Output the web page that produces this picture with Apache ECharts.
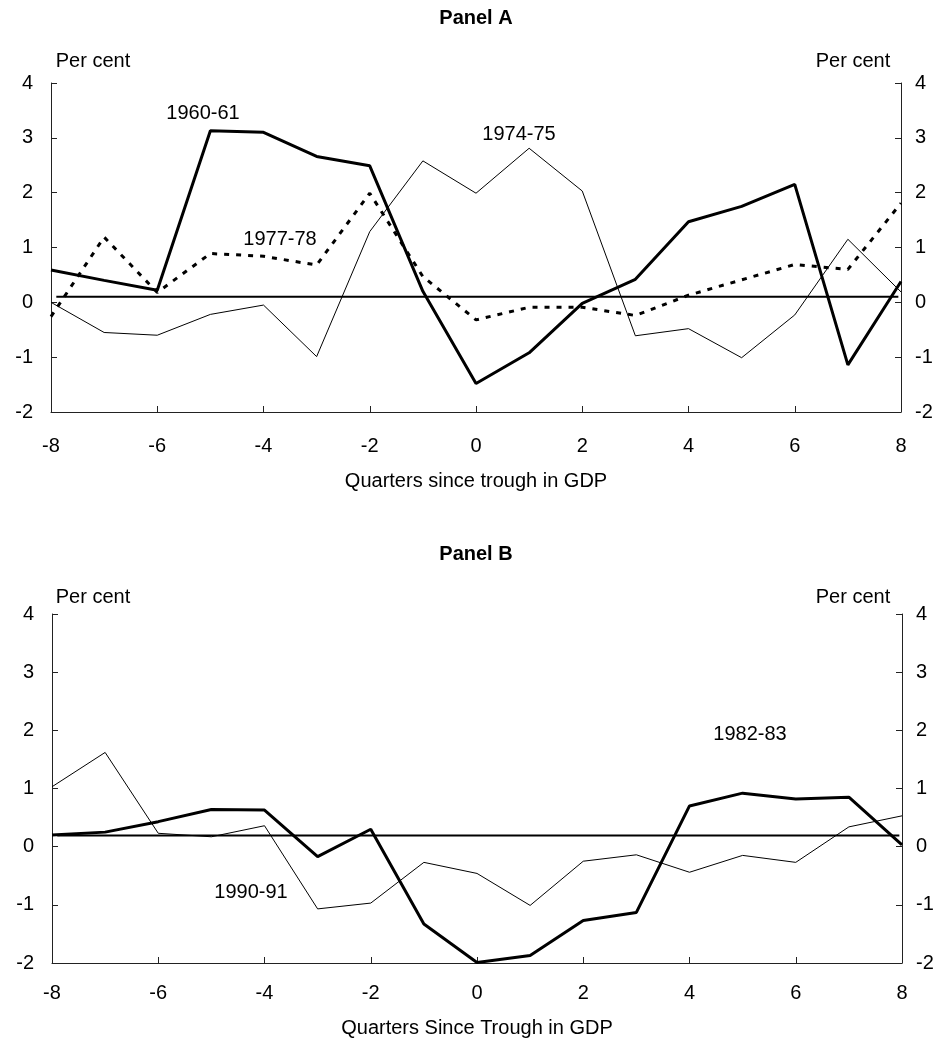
<!DOCTYPE html>
<html>
<head>
<meta charset="utf-8">
<script src="https://cdn.jsdelivr.net/npm/echarts@6/dist/echarts.min.js"></script>
<style>html,body{margin:0;padding:0;background:#fff}#c{width:940px;height:1055px}</style>
</head>
<body>
<div id="c"></div>
<script>
// Quarters since trough in GDP
var quarters = [-8,-7,-6,-5,-4,-3,-2,-1,0,1,2,3,4,5,6,7,8];
var yTicks = [-2,-1,0,1,2,3,4];
var xTicks = [-8,-6,-4,-2,0,2,4,6,8];

// Panel A
var s1960_61 = [0.59,0.40,0.22,3.13,3.10,2.66,2.49,0.20,-1.48,-0.92,-0.02,0.42,1.47,1.75,2.15,-1.14,0.38];
var s1974_75 = [0.00,-0.55,-0.60,-0.22,-0.05,-0.99,1.29,2.58,1.99,2.81,2.03,-0.61,-0.48,-1.01,-0.23,1.15,0.19];
var s1977_78 = [-0.26,1.19,0.18,0.89,0.84,0.68,1.99,0.47,-0.32,-0.09,-0.09,-0.24,0.13,0.41,0.69,0.60,1.81];
var refLineA = 0.10;

// Panel B
var s1982_83 = [0.20,0.25,0.43,0.64,0.63,-0.17,0.30,-1.33,-1.99,-1.87,-1.27,-1.13,0.70,0.92,0.82,0.85,0.03];
var s1990_91 = [1.03,1.62,0.23,0.17,0.36,-1.07,-0.97,-0.27,-0.46,-1.01,-0.25,-0.14,-0.44,-0.15,-0.27,0.34,0.53];
var refLineB = 0.19;

function pairs(vals){ return quarters.map(function(q,i){ return [q, vals[i]]; }); }

var FONT = '"Liberation Sans", Arial, sans-serif';
var axisCol = '#222';

function xAxisCfg(gi, name, gap, margin){
  return {
    type:'value', gridIndex:gi, min:xTicks[0], max:xTicks[xTicks.length-1], interval:2,
    name:name, nameLocation:'middle', nameGap:gap,
    nameTextStyle:{fontFamily:FONT, fontSize:20, color:'#000'},
    axisLine:{onZero:false, lineStyle:{color:axisCol, width:1}},
    axisTick:{inside:true, length:6, lineStyle:{color:axisCol}},
    axisLabel:{fontFamily:FONT, fontSize:20, color:'#000', margin:margin},
    splitLine:{show:false}
  };
}
function yAxisCfg(gi, pos){
  return {
    type:'value', gridIndex:gi, position:pos, min:yTicks[0], max:yTicks[yTicks.length-1], interval:1,
    axisLine:{show:true, onZero:false, lineStyle:{color:axisCol, width:1}},
    axisTick:{show:true, inside:true, length:6, lineStyle:{color:axisCol}},
    axisLabel:{fontFamily:FONT, fontSize:20, color:'#000', margin:pos==='left'?18:14},
    splitLine:{show:false}
  };
}
function lineSeries(name, xi, yi, vals, width, type){
  return {
    name:name, type:'line', xAxisIndex:xi, yAxisIndex:yi, data:pairs(vals),
    showSymbol:false, symbol:'none', animation:false,
    lineStyle:{color:'#000', width:width, type:type||'solid'}
  };
}
function refSeries(xi, yi, v){
  return {
    type:'line', xAxisIndex:xi, yAxisIndex:yi, data:[[-7.9,v],[7.95,v]],
    showSymbol:false, symbol:'none', animation:false, silent:true,
    lineStyle:{color:'#000', width:2}
  };
}
function label(txt, x, y, bold){
  return {type:'text', x:x, y:y, style:{text:txt, font:(bold?'bold ':'')+'20px '+FONT, fill:'#000', textAlign:'center', textVerticalAlign:'middle'}};
}

var chart = echarts.init(document.getElementById('c'), null, {renderer:'canvas'});
chart.setOption({
  backgroundColor:'#fff',
  animation:false,
  grid:[
    {left:51, right:39, top:83, height:329},
    {left:52, right:38, top:614, height:349}
  ],
  xAxis:[ xAxisCfg(0,'Quarters since trough in GDP',59,24), xAxisCfg(1,'Quarters Since Trough in GDP',55,20) ],
  yAxis:[ yAxisCfg(0,'left'), yAxisCfg(0,'right'), yAxisCfg(1,'left'), yAxisCfg(1,'right') ],
  series:[
    refSeries(0,0,refLineA),
    lineSeries('1974-75',0,0,s1974_75,1),
    lineSeries('1977-78',0,0,s1977_78,3,[5,7]),
    lineSeries('1960-61',0,0,s1960_61,3),
    refSeries(1,2,refLineB),
    lineSeries('1990-91',1,2,s1990_91,1),
    lineSeries('1982-83',1,2,s1982_83,3)
  ],
  graphic:[
    label('Panel A', 476, 18, true),
    label('Panel B', 476, 554, true),
    label('Per cent', 93, 61),
    label('Per cent', 853, 61),
    label('Per cent', 93, 597),
    label('Per cent', 853, 597),
    label('1960-61', 203, 113),
    label('1974-75', 519, 134),
    label('1977-78', 280, 239),
    label('1990-91', 251, 892),
    label('1982-83', 750, 734)
  ]
});
</script>
</body>
</html>
